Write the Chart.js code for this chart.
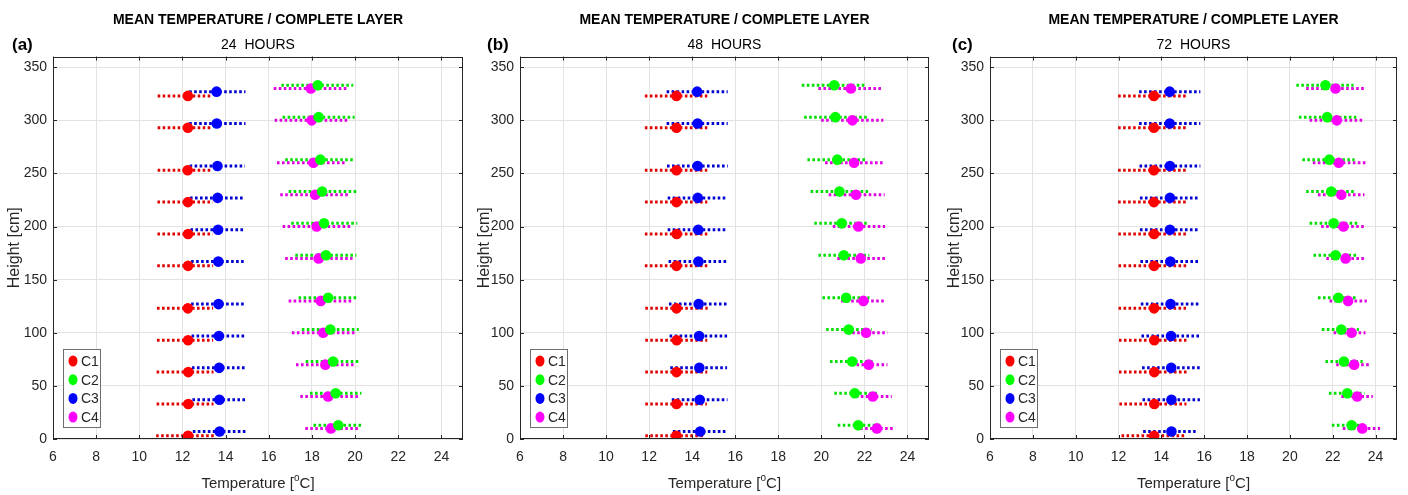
<!DOCTYPE html>
<html>
<head>
<meta charset="utf-8">
<script src="https://cdn.jsdelivr.net/npm/chart.js@4.4.1/dist/chart.umd.min.js"></script>
<style>
  body { margin: 0; background: #fff; }
  .panel { position: absolute; top: 0; height: 495px; }
</style>
</head>
<body>
<div class="panel" style="left:0;width:470px"><canvas id="chartA"></canvas></div>
<div class="panel" style="left:470px;width:470px"><canvas id="chartB"></canvas></div>
<div class="panel" style="left:940px;width:468px"><canvas id="chartC"></canvas></div>
<script>
// heights of the measuring points [cm]
const heightC1 = [323, 293, 253, 223, 193, 163, 123, 93, 63, 33, 3];
const heightC2 = [333, 303, 263, 233, 203, 173, 133, 103, 73, 43, 13];
const heightC3 = [327, 297, 257, 227, 197, 167, 127, 97, 67, 37, 7];
const heightC4 = [330, 300, 260, 230, 200, 170, 130, 100, 70, 40, 10];

// 24 hours
const meanC1_24 = [12.25, 12.25, 12.24, 12.25, 12.26, 12.26, 12.25, 12.26, 12.27, 12.27, 12.26];
const lowC1_24  = [10.85, 10.85, 10.85, 10.84, 10.84, 10.83, 10.82, 10.82, 10.8, 10.8, 10.78];
const highC1_24 = [13.4, 13.4, 13.38, 13.4, 13.4, 13.42, 13.42, 13.42, 13.44, 13.44, 13.45];
const meanC2_24 = [18.27, 18.31, 18.39, 18.47, 18.56, 18.65, 18.75, 18.85, 18.98, 19.1, 19.22];
const lowC2_24  = [16.58, 16.64, 16.76, 16.92, 17.04, 17.23, 17.38, 17.53, 17.71, 17.91, 18.07];
const highC2_24 = [19.91, 19.98, 19.9, 20.06, 20.1, 20.06, 20.06, 20.17, 20.17, 20.29, 20.29];
const meanC3_24 = [13.58, 13.59, 13.62, 13.63, 13.65, 13.66, 13.67, 13.69, 13.7, 13.71, 13.72];
const lowC3_24  = [12.31, 12.31, 12.33, 12.35, 12.37, 12.4, 12.4, 12.42, 12.44, 12.46, 12.48];
const highC3_24 = [14.92, 14.92, 14.9, 14.88, 14.88, 14.9, 14.86, 14.9, 14.92, 14.92, 14.92];
const meanC4_24 = [17.95, 17.99, 18.07, 18.15, 18.22, 18.31, 18.41, 18.52, 18.62, 18.75, 18.88];
const lowC4_24  = [16.23, 16.27, 16.38, 16.53, 16.64, 16.76, 16.92, 17.07, 17.26, 17.46, 17.69];
const highC4_24 = [19.68, 19.65, 19.6, 19.76, 19.79, 19.88, 19.9, 19.99, 19.99, 20.14, 20.14];

// 48 hours
const meanC1_48 = [13.27, 13.27, 13.27, 13.27, 13.28, 13.27, 13.27, 13.28, 13.27, 13.27, 13.26];
const lowC1_48  = [11.8, 11.8, 11.8, 11.81, 11.8, 11.8, 11.82, 11.82, 11.82, 11.82, 11.82];
const highC1_48 = [14.7, 14.7, 14.7, 14.7, 14.7, 14.7, 14.72, 14.7, 14.7, 14.68, 14.6];
const meanC2_48 = [20.6, 20.65, 20.74, 20.84, 20.95, 21.04, 21.15, 21.27, 21.43, 21.55, 21.71];
const lowC2_48  = [19.09, 19.2, 19.35, 19.5, 19.67, 19.86, 20.05, 20.22, 20.4, 20.6, 20.76];
const highC2_48 = [22.0, 22.11, 22.05, 22.17, 22.11, 22.23, 22.23, 22.34, 22.42, 22.6, 22.73];
const meanC3_48 = [14.23, 14.25, 14.25, 14.26, 14.28, 14.29, 14.3, 14.32, 14.33, 14.35, 14.37];
const lowC3_48  = [12.81, 12.81, 12.83, 12.86, 12.86, 12.9, 12.92, 12.95, 12.98, 13.05, 13.1];
const highC3_48 = [15.65, 15.65, 15.65, 15.6, 15.6, 15.62, 15.6, 15.62, 15.62, 15.64, 15.6];
const meanC4_48 = [21.37, 21.44, 21.52, 21.61, 21.72, 21.83, 21.95, 22.08, 22.2, 22.39, 22.58];
const lowC4_48  = [19.86, 19.99, 20.17, 20.34, 20.53, 20.74, 20.92, 21.2, 21.4, 21.6, 21.8];
const highC4_48 = [22.81, 22.88, 22.86, 22.94, 22.96, 22.96, 22.92, 23.07, 23.07, 23.27, 23.43];

// 72 hours
const meanC1_72 = [13.65, 13.65, 13.65, 13.65, 13.66, 13.66, 13.66, 13.67, 13.67, 13.67, 13.66];
const lowC1_72  = [11.98, 11.98, 11.98, 11.98, 11.99, 12.0, 12.0, 12.02, 12.02, 12.04, 12.14];
const highC1_72 = [15.17, 15.17, 15.17, 15.15, 15.15, 15.17, 15.15, 15.17, 15.2, 15.17, 15.09];
const meanC2_72 = [21.66, 21.74, 21.84, 21.93, 22.04, 22.13, 22.26, 22.4, 22.52, 22.68, 22.88];
const lowC2_72  = [20.3, 20.42, 20.58, 20.76, 20.92, 21.1, 21.31, 21.49, 21.66, 21.82, 21.96];
const highC2_72 = [22.97, 23.1, 23.02, 23.02, 23.17, 23.1, 23.17, 23.22, 23.4, 23.48, 23.59];
const meanC3_72 = [14.39, 14.39, 14.4, 14.4, 14.4, 14.42, 14.43, 14.45, 14.46, 14.47, 14.47];
const lowC3_72  = [12.96, 12.96, 12.98, 13.0, 13.0, 13.02, 13.04, 13.07, 13.1, 13.12, 13.15];
const highC3_72 = [15.82, 15.82, 15.82, 15.78, 15.78, 15.8, 15.78, 15.8, 15.8, 15.8, 15.6];
const meanC4_72 = [22.13, 22.19, 22.28, 22.4, 22.5, 22.6, 22.72, 22.88, 23.0, 23.14, 23.38];
const lowC4_72  = [20.76, 20.92, 21.07, 21.31, 21.46, 21.7, 21.85, 22.04, 22.16, 22.4, 22.47];
const highC4_72 = [23.48, 23.48, 23.53, 23.48, 23.48, 23.53, 23.59, 23.53, 23.75, 23.87, 24.21];

const xTicksMin = 6, xTicksMax = 25, xStep = 2;
const yTicksMin = 0, yTicksMax = 360, yStep = 50;

const FONT = "'Liberation Sans', Arial, Helvetica, sans-serif";
const INK = '#262626';

const seriesStyle = {
    C1: {marker: '#ff0000', bar: '#e00000'},
    C2: {marker: '#00ff00', bar: '#00e000'},
    C3: {marker: '#0000ff', bar: '#0000d0'},
    C4: {marker: '#ff00ff', bar: '#e000e0'}
};

const buildDatasets = (series) => {
    let sets = [];
    series.forEach(s => {
        let st = seriesStyle[s.label];
        s.heights.forEach((h, i) => {
            sets.push({
                label: s.label + ' range',
                data: [{x: s.low[i], y: h}, {x: s.high[i], y: h}],
                showLine: true,
                borderColor: st.bar,
                borderWidth: 3,
                borderDash: [2.6, 2.4],
                borderCapStyle: 'butt',
                pointRadius: 0,
                order: 10
            });
        });
    });
    series.forEach(s => {
        let st = seriesStyle[s.label];
        sets.push({
            label: s.label,
            isMarker: true,
            data: s.heights.map((h, i) => ({x: s.mean[i], y: h})),
            backgroundColor: st.marker,
            borderWidth: 0,
            pointRadius: 5.3,
            order: 1
        });
    });
    return sets;
};

const matlabFrame = {
    id: 'matlabFrame',
    afterDraw(chart, args, opts) {
        const {ctx, chartArea: a, scales: {x, y}} = chart;
        ctx.save();
        ctx.strokeStyle = INK;
        ctx.lineWidth = 1;
        ctx.strokeRect(Math.round(a.left) + 0.5, Math.round(a.top) + 0.5,
            Math.round(a.right - a.left) - 1, Math.round(a.bottom - a.top) - 1);
        ctx.beginPath();
        x.ticks.forEach(t => {
            let px = Math.round(x.getPixelForValue(t.value)) + 0.5;
            ctx.moveTo(px, a.bottom); ctx.lineTo(px, a.bottom - 4);
            ctx.moveTo(px, a.top); ctx.lineTo(px, a.top + 4);
        });
        y.ticks.forEach(t => {
            let py = Math.round(y.getPixelForValue(t.value)) + 0.5;
            ctx.moveTo(a.left, py); ctx.lineTo(a.left + 4, py);
            ctx.moveTo(a.right, py); ctx.lineTo(a.right - 4, py);
        });
        ctx.stroke();

        // legend box
        let markers = chart.data.datasets.filter(d => d.isMarker);
        let bx = a.left + 10, by = a.bottom - 90, bw = 37, bh = 78;
        ctx.fillStyle = '#fff';
        ctx.fillRect(bx, by, bw, bh);
        ctx.strokeStyle = '#6e6e6e';
        ctx.strokeRect(bx + 0.5, by + 0.5, bw, bh);
        ctx.font = '14px ' + FONT;
        ctx.textBaseline = 'middle';
        markers.forEach((d, i) => {
            let cy = by + 12 + i * 18.7;
            ctx.fillStyle = d.backgroundColor;
            ctx.beginPath();
            ctx.ellipse(bx + 10, cy, 4.5, 5.5, 0, 0, Math.PI * 2);
            ctx.fill();
            ctx.fillStyle = INK;
            ctx.fillText(d.label, bx + 18, cy + 1);
        });

        // panel letter
        ctx.font = 'bold 17px ' + FONT;
        ctx.fillStyle = '#000';
        ctx.textAlign = 'left';
        ctx.fillText(opts.letter, opts.letterX, 45);

        // x axis title with superscript
        let cx = (a.left + a.right) / 2;
        let p1 = 'Temperature [', p2 = 'o', p3 = 'C]';
        ctx.font = '15px ' + FONT;
        let w1 = ctx.measureText(p1).width, w3 = ctx.measureText(p3).width;
        ctx.font = '10px ' + FONT;
        let w2 = ctx.measureText(p2).width;
        let sx = cx - (w1 + w2 + w3) / 2;
        ctx.fillStyle = INK;
        ctx.font = '15px ' + FONT;
        ctx.fillText(p1, sx, 484);
        ctx.font = '10px ' + FONT;
        ctx.fillText(p2, sx + w1, 478);
        ctx.font = '15px ' + FONT;
        ctx.fillText(p3, sx + w1 + w2, 484);
        ctx.restore();
    }
};

const configPanel = (p) => {
    return {
        type: 'scatter',
        data: {datasets: buildDatasets(p.series)},
        options: {
            responsive: true,
            maintainAspectRatio: false,
            animation: false,
            layout: {padding: {left: 0, right: p.padRight, top: 0, bottom: 0}},
            scales: {
                x: {
                    type: 'linear',
                    min: xTicksMin,
                    max: xTicksMax,
                    ticks: {stepSize: xStep, includeBounds: false, padding: 10, color: INK,
                        font: {family: FONT, size: 14}},
                    grid: {color: '#e3e3e3', drawTicks: false},
                    border: {display: false},
                    afterFit: (s) => { s.height = 56; }
                },
                y: {
                    min: yTicksMin,
                    max: yTicksMax,
                    ticks: {stepSize: yStep, includeBounds: false, padding: 6, color: INK,
                        font: {family: FONT, size: 14}},
                    grid: {color: '#e3e3e3', drawTicks: false},
                    border: {display: false},
                    title: {display: true, text: 'Height [cm]', color: INK,
                        font: {family: FONT, size: 16}, padding: {top: 5, bottom: 0}},
                    afterFit: (s) => { s.width = p.plotLeft; }
                }
            },
            plugins: {
                legend: {display: false},
                tooltip: {enabled: false},
                title: {
                    display: true,
                    fullSize: false,
                    text: 'MEAN TEMPERATURE / COMPLETE LAYER',
                    color: '#000',
                    font: {family: FONT, size: 14, weight: 'bold'},
                    padding: {top: 12, bottom: 8}
                },
                subtitle: {
                    display: true,
                    fullSize: false,
                    text: p.subtitle,
                    color: '#000',
                    font: {family: FONT, size: 14},
                    padding: {top: 0, bottom: 3}
                },
                matlabFrame: {letter: p.letter, letterX: p.letterX}
            }
        },
        plugins: [matlabFrame]
    };
};

const panels = [
    {id: 'chartA', letter: '(a)', letterX: 12, subtitle: '24  HOURS', plotLeft: 53, padRight: 7,
        series: [
            {label: 'C1', heights: heightC1, mean: meanC1_24, low: lowC1_24, high: highC1_24},
            {label: 'C2', heights: heightC2, mean: meanC2_24, low: lowC2_24, high: highC2_24},
            {label: 'C3', heights: heightC3, mean: meanC3_24, low: lowC3_24, high: highC3_24},
            {label: 'C4', heights: heightC4, mean: meanC4_24, low: lowC4_24, high: highC4_24}
        ]},
    {id: 'chartB', letter: '(b)', letterX: 17, subtitle: '48  HOURS', plotLeft: 50, padRight: 11,
        series: [
            {label: 'C1', heights: heightC1, mean: meanC1_48, low: lowC1_48, high: highC1_48},
            {label: 'C2', heights: heightC2, mean: meanC2_48, low: lowC2_48, high: highC2_48},
            {label: 'C3', heights: heightC3, mean: meanC3_48, low: lowC3_48, high: highC3_48},
            {label: 'C4', heights: heightC4, mean: meanC4_48, low: lowC4_48, high: highC4_48}
        ]},
    {id: 'chartC', letter: '(c)', letterX: 12, subtitle: '72  HOURS', plotLeft: 50, padRight: 11,
        series: [
            {label: 'C1', heights: heightC1, mean: meanC1_72, low: lowC1_72, high: highC1_72},
            {label: 'C2', heights: heightC2, mean: meanC2_72, low: lowC2_72, high: highC2_72},
            {label: 'C3', heights: heightC3, mean: meanC3_72, low: lowC3_72, high: highC3_72},
            {label: 'C4', heights: heightC4, mean: meanC4_72, low: lowC4_72, high: highC4_72}
        ]}
];

panels.forEach(p => {
    new Chart(document.getElementById(p.id), configPanel(p));
});
</script>
</body>
</html>
